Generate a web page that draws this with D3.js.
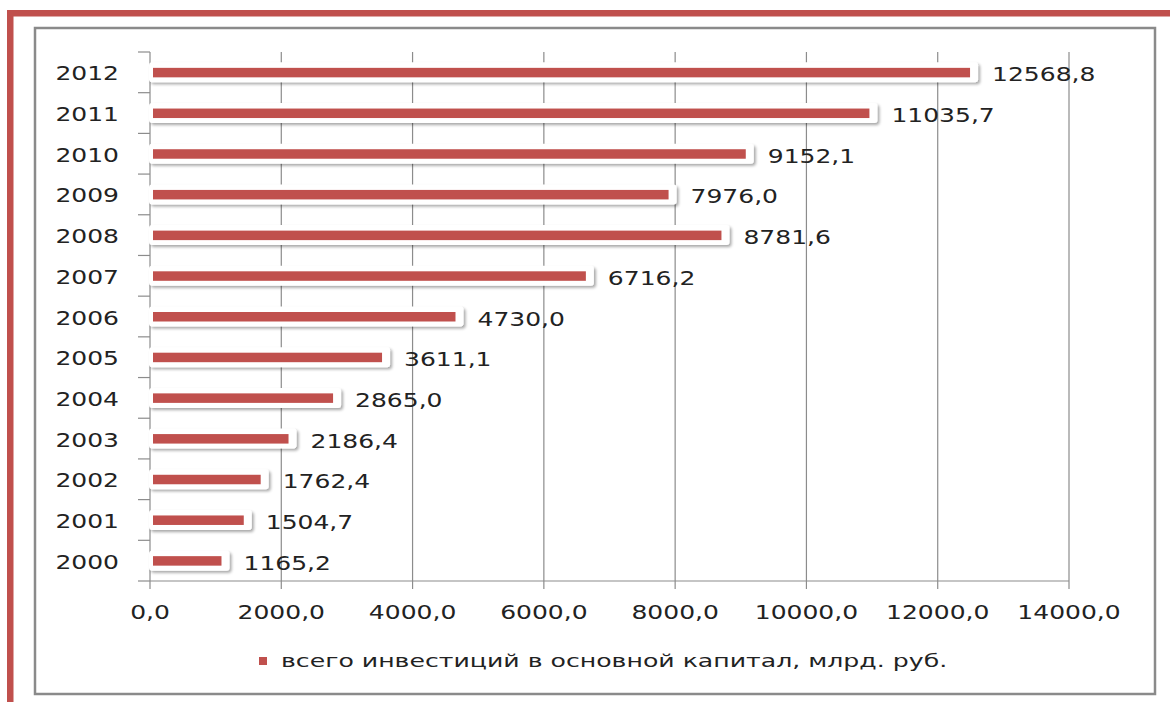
<!DOCTYPE html>
<html><head><meta charset="utf-8">
<script src="https://cdn.jsdelivr.net/npm/d3@7"></script>
<style>body{margin:0;background:#fff;}svg{display:block;}</style>
</head><body>
<script>
const years = ["2000","2001","2002","2003","2004","2005","2006","2007","2008","2009","2010","2011","2012"];
const values = [1165.2,1504.7,1762.4,2186.4,2865.0,3611.1,4730.0,6716.2,8781.6,7976.0,9152.1,11035.7,12568.8];
const xTicks = [0,2000,4000,6000,8000,10000,12000,14000];
const legendLabel = "всего инвестиций в основной капитал, млрд. руб.";

const W = 1170, H = 702;
const RED = "#C0504D";
const SX = 1.25;
const FONT = "DejaVu Sans";
const fmt = v => v.toFixed(1).replace(".", ",");

const svg = d3.select("body").append("svg").attr("width", W).attr("height", H);
const defs = svg.append("defs");
const f = defs.append("filter").attr("id","sh").attr("x","-10%").attr("y","-50%").attr("width","130%").attr("height","250%");
f.append("feGaussianBlur").attr("in","SourceAlpha").attr("stdDeviation",1.8).attr("result","b");
f.append("feOffset").attr("in","b").attr("dx",1.5).attr("dy",2).attr("result","o");
f.append("feComponentTransfer").attr("in","o").attr("result","o2").append("feFuncA").attr("type","linear").attr("slope",0.35);
const m = f.append("feMerge");
m.append("feMergeNode").attr("in","o2");
m.append("feMergeNode").attr("in","SourceGraphic");

// outer red frame
svg.append("rect").attr("x",7).attr("y",10).attr("width",W-7).attr("height",6.5).attr("fill",RED);
svg.append("rect").attr("x",7).attr("y",10).attr("width",6.5).attr("height",H-10).attr("fill",RED);

// chart frame
svg.append("rect").attr("x",35).attr("y",28).attr("width",1120).attr("height",666)
  .attr("fill","#fff").attr("stroke","#8a8a8a").attr("stroke-width",2.5);

const x = d3.scaleLinear().domain([0,14000]).range([150,1069]);
const y = d3.scaleBand().domain(years.slice().reverse()).range([52,581]).padding(0);

// grid
svg.append("g").selectAll("line").data(xTicks.slice(1)).join("line")
  .attr("x1",d=>x(d)).attr("x2",d=>x(d)).attr("y1",52).attr("y2",581)
  .attr("stroke","#8c8c8c").attr("stroke-width",1.2);

// y axis
const yAxisG = svg.append("g");
yAxisG.append("line").attr("x1",150).attr("x2",150).attr("y1",52).attr("y2",581).attr("stroke","#8c8c8c").attr("stroke-width",1.2);
const bounds = d3.range(years.length+1).map(i => 52 + i*y.bandwidth());
yAxisG.selectAll("line.t").data(bounds).join("line").attr("class","t")
  .attr("x1",138).attr("x2",150).attr("y1",d=>d).attr("y2",d=>d).attr("stroke","#8c8c8c").attr("stroke-width",1.2);

// x axis
const xAxisG = svg.append("g");
xAxisG.append("line").attr("x1",x(0)).attr("x2",x(14000)).attr("y1",581).attr("y2",581).attr("stroke","#8c8c8c").attr("stroke-width",1.2);
xAxisG.selectAll("line.t").data(xTicks).join("line").attr("class","t")
  .attr("x1",d=>x(d)).attr("x2",d=>x(d)).attr("y1",581).attr("y2",589).attr("stroke","#8c8c8c").attr("stroke-width",1.2);
xAxisG.selectAll("text").data(xTicks).join("text")
  .attr("transform",d=>`translate(${x(d)},619) scale(${SX},1)`)
  .attr("text-anchor","middle").attr("font-family",FONT).attr("font-size",20).attr("fill","#222")
  .text(d=>fmt(d));

// year labels
svg.append("g").selectAll("text").data(years).join("text")
  .attr("transform",d=>`translate(119,${y(d)+y.bandwidth()/2+8}) scale(${SX},1)`)
  .attr("text-anchor","end").attr("font-family",FONT).attr("font-size",20).attr("fill","#222")
  .text(d=>d);

// bars
const data = years.map((yr,i)=>({yr, v: values[i]}));
const bars = svg.append("g");
bars.selectAll("rect.bg").data(data).join("rect").attr("class","bg")
  .attr("x",x(0)-1).attr("y",d=>y(d.yr)+y.bandwidth()/2-10)
  .attr("width",d=>x(d.v)+3-(x(0)-1)).attr("height",20).attr("rx",3)
  .attr("fill","#fff").attr("filter","url(#sh)");
bars.selectAll("rect.bar").data(data).join("rect").attr("class","bar")
  .attr("x",x(0)+3).attr("y",d=>y(d.yr)+y.bandwidth()/2-4.5)
  .attr("width",d=>x(d.v)-5-(x(0)+3)).attr("height",9.5)
  .attr("fill",RED);

// value labels
svg.append("g").selectAll("text").data(data).join("text")
  .attr("transform",d=>`translate(${x(d.v)+17},${y(d.yr)+y.bandwidth()/2+9}) scale(${SX},1)`)
  .attr("font-family",FONT).attr("font-size",20).attr("fill","#222")
  .text(d=>fmt(d.v));

// legend
const lg = svg.append("g");
lg.append("rect").attr("x",259).attr("y",657).attr("width",8).attr("height",8).attr("fill",RED);
lg.append("text").attr("transform",`translate(281,667) scale(1.4,1)`)
  .attr("font-family",FONT).attr("font-size",18).attr("fill","#222").text(legendLabel);
</script>
</body></html>
